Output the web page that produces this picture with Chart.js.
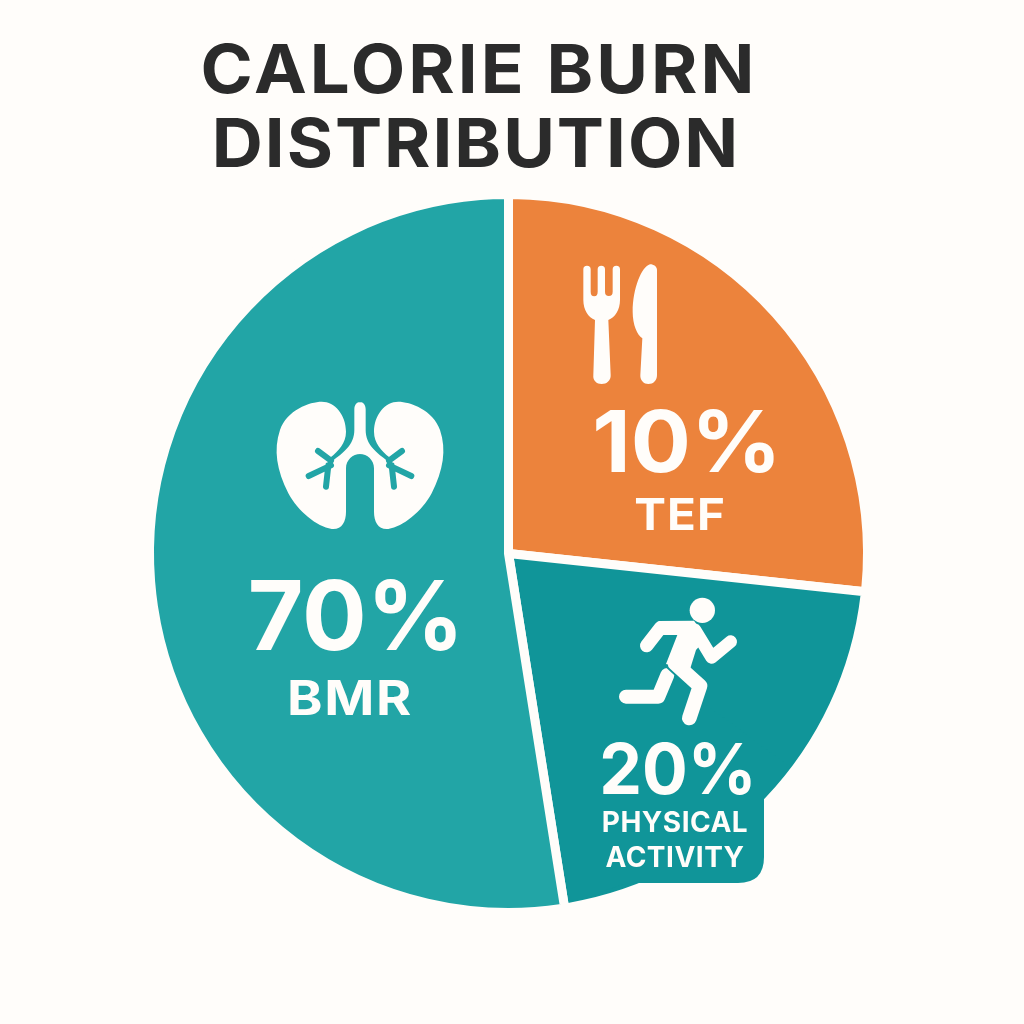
<!DOCTYPE html>
<html>
<head>
<meta charset="utf-8">
<title>Calorie Burn Distribution</title>
<script src="https://cdn.jsdelivr.net/npm/chart.js@4"></script>
<style>
  html, body { margin: 0; padding: 0; background: #FFFDFA; }
  #wrap { width: 1024px; height: 1024px; }
</style>
</head>
<body>
<div id="wrap"><canvas id="myChart" width="1024" height="1024"></canvas></div>
<script>
// datos: orden horario desde arriba
const categorias = ['TEF', 'PHYSICAL ACTIVITY', 'BMR'];
const porcentajes = ['10%', '20%', '70%'];
// tamano visible de cada porcion (la imagen no respeta los porcentajes impresos)
const porciones = [26.7, 20.8, 52.5];
const colores = ['#EC833C', '#109599', '#22A5A6'];
const tituloLineas = ['CALORIE BURN', 'DISTRIBUTION'];

const FONDO = '#FFFDFA';
const FUENTE = 'Inter, "Open Sans", sans-serif';

// sx estira el texto a lo ancho, la letra de la imagen es mas ancha
function texto(ctx, t, x, y, size, spacing, color, sx = 1) {
    ctx.save();
    ctx.font = '700 ' + size + 'px ' + FUENTE;
    ctx.letterSpacing = spacing + 'px';
    ctx.fillStyle = color;
    ctx.textAlign = 'center';
    ctx.textBaseline = 'alphabetic';
    ctx.translate(x, y);
    ctx.scale(sx, 1);
    ctx.fillText(t, 0, 0);
    ctx.restore();
}

// pestana de la porcion oscura, abajo a la derecha
function dibujarPestana(ctx) {
    ctx.fillStyle = colores[1];
    ctx.beginPath();
    ctx.moveTo(790, 767);
    ctx.lineTo(764, 797);
    ctx.lineTo(764, 857);
    ctx.quadraticCurveTo(764, 883, 738, 883);
    ctx.lineTo(628, 883);
    ctx.lineTo(600, 892);
    ctx.lineTo(600, 800);
    ctx.lineTo(700, 700);
    ctx.closePath();
    ctx.fill();
}

function dibujarPulmones(ctx) {
    ctx.save();
    ctx.translate(260, 380);
    ctx.scale(1 / 3, 1 / 3);
    const mitad = new Path2D('M185,65 C225,65 258,105 258,155 C258,190 235,212 212,232 L216,244 C250,218 283,195 283,150 L283,88 C283,65 301,65 301,68 L301,222 C278,222 258,240 258,265 L258,395 C258,425 245,450 215,447 C170,440 115,395 85,340 C50,270 40,210 60,150 C80,90 150,65 185,65 Z');
    for (const lado of [1, -1]) {
        ctx.save();
        ctx.translate(300, 0);
        ctx.scale(lado, 1);
        ctx.translate(-300, 0);
        ctx.fillStyle = FONDO;
        ctx.fill(mitad);
        ctx.strokeStyle = colores[2];
        ctx.lineWidth = 18;
        ctx.lineCap = 'round';
        ctx.beginPath();
        ctx.moveTo(213, 242); ctx.lineTo(174, 213);
        ctx.moveTo(213, 256); ctx.lineTo(146, 288);
        ctx.moveTo(205, 256); ctx.lineTo(198, 320);
        ctx.stroke();
        ctx.restore();
    }
    ctx.restore();
}

function dibujarCubiertos(ctx) {
    ctx.save();
    ctx.translate(560, 250);
    ctx.scale(1 / 3, 1 / 3);
    ctx.fillStyle = FONDO;
    ctx.fill(new Path2D('M70,58 a11,11 0 0 1 22,0 L92,125 a10,13 0 0 0 21,0 L113,58 a11,11 0 0 1 22,0 L135,125 a11.5,13 0 0 0 23,0 L158,58 a11,11 0 0 1 22,0 L180,150 C180,180 165,202 145,210 L152,375 C153,392 140,402 125,402 C110,402 98,392 100,375 L105,210 C85,202 70,180 70,150 Z'));
    ctx.fill(new Path2D('M291,60 C291,50 282,43 270,43 C245,50 218,115 218,185 C218,225 232,255 247,265 L241,375 C240,392 252,402 265,402 C280,402 291,392 291,375 Z'));
    ctx.restore();
}

function trazo(ctx, puntos, ancho, color) {
    ctx.strokeStyle = color;
    ctx.lineWidth = ancho;
    ctx.lineCap = 'round';
    ctx.lineJoin = 'round';
    ctx.beginPath();
    puntos.forEach((p, i) => i ? ctx.lineTo(p[0], p[1]) : ctx.moveTo(p[0], p[1]));
    ctx.stroke();
}

function dibujarCorredor(ctx) {
    ctx.save();
    ctx.translate(590, 580);
    ctx.scale(1 / 3, 1 / 3);
    ctx.fillStyle = FONDO;
    ctx.beginPath();
    ctx.arc(337, 91, 38, 0, Math.PI * 2);
    ctx.fill();
    trazo(ctx, [[232, 285], [205, 350], [108, 350]], 42, FONDO);
    trazo(ctx, [[250, 245], [330, 318]], 56, colores[1]);
    trazo(ctx, [[255, 250], [330, 318], [298, 414]], 44, FONDO);
    trazo(ctx, [[170, 197], [212, 143]], 40, FONDO);
    trazo(ctx, [[315, 150], [365, 232], [422, 185]], 38, FONDO);
    ctx.fill(new Path2D('M205,123 L312,122 L350,175 L318,210 L300,268 L228,252 L262,165 L215,165 Z'));
    ctx.restore();
}

const decoracion = {
    id: 'decoracion',
    afterDatasetsDraw(chart) {
        const ctx = chart.ctx;
        ctx.save();
        dibujarPestana(ctx);
        dibujarPulmones(ctx);
        dibujarCubiertos(ctx);
        dibujarCorredor(ctx);

        const tinta = '#2B2B2B';
        texto(ctx, tituloLineas[0], 479, 93, 68, 2.9, tinta, 1.04);
        texto(ctx, tituloLineas[1], 476, 167, 68, 1.9, tinta, 1.04);

        texto(ctx, porcentajes[2], 356, 650, 96, 0, FONDO);
        texto(ctx, 'BMR', 350, 715, 48, 1.5, FONDO, 1.12);
        texto(ctx, porcentajes[0], 687, 472, 85, 0, FONDO, 1.05);
        texto(ctx, 'TEF', 680, 530, 44, 1, FONDO, 1.08);
        texto(ctx, porcentajes[1], 678, 794, 70, 0, FONDO, 0.97);
        texto(ctx, 'PHYSICAL', 675, 832, 28, 0.5, FONDO);
        texto(ctx, 'ACTIVITY', 675, 867, 28, 0.5, FONDO);
        ctx.restore();
    }
};

function cargarGrafico() {
    const chartDOM = document.getElementById('myChart');
    new Chart(chartDOM, {
        type: 'pie',
        data: {
            labels: categorias,
            datasets: [{
                data: porciones,
                backgroundColor: colores,
                borderColor: FONDO,
                borderWidth: 9,
                borderRadius: 3
            }]
        },
        options: {
            responsive: false,
            animation: false,
            layout: { padding: { left: 145, right: 152, top: 190, bottom: 107 } },
            plugins: {
                legend: { display: false },
                tooltip: { enabled: false },
                title: { display: false }
            }
        },
        plugins: [decoracion]
    });
}

cargarGrafico();
</script>
</body>
</html>
